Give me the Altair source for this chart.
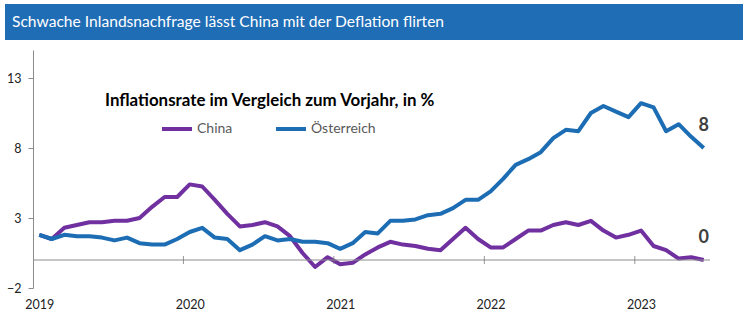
import altair as alt
import pandas as pd

# ---- data ----
years = ["2019", "2020", "2021", "2022", "2023"]
series_names = ["China", "Österreich"]
china = [1.8, 1.5, 2.3, 2.5, 2.7, 2.7, 2.8, 2.8, 3.0, 3.8, 4.5, 4.5,
         5.4, 5.25, 4.3, 3.3, 2.4, 2.5, 2.7, 2.4, 1.7, 0.5, -0.5, 0.2,
         -0.3, -0.2, 0.4, 0.9, 1.3, 1.1, 1.0, 0.8, 0.7, 1.5, 2.3, 1.5,
         0.9, 0.9, 1.5, 2.1, 2.1, 2.5, 2.7, 2.5, 2.8, 2.1, 1.6, 1.8,
         2.1, 1.0, 0.7, 0.1, 0.2, 0.0]
austria = [1.8, 1.5, 1.8, 1.7, 1.7, 1.6, 1.4, 1.6, 1.2, 1.1, 1.1, 1.5,
           2.0, 2.3, 1.6, 1.5, 0.7, 1.1, 1.7, 1.4, 1.5, 1.3, 1.3, 1.2,
           0.8, 1.2, 2.0, 1.9, 2.8, 2.8, 2.9, 3.2, 3.3, 3.7, 4.3, 4.3,
           4.9, 5.8, 6.8, 7.2, 7.7, 8.7, 9.3, 9.2, 10.5, 11.0, 10.6, 10.2,
           11.2, 10.9, 9.2, 9.7, 8.8, 8.0]
y_ticks = [-2, 3, 8, 13]
banner_title = "Schwache Inlandsnachfrage lässt China mit der Deflation flirten"
legend_title = "Inflationsrate im Vergleich zum Vorjahr, in %"
colors = ["#7030A0", "#1C6DB4"]

n = len(china)
rows = []
for name, vals in zip(series_names, [china, austria]):
    for i, v in enumerate(vals):
        rows.append({"t": i + 0.5, "value": v, "series": name})
df = pd.DataFrame(rows)

end_df = pd.DataFrame({
    "t": [n - 0.5, n - 0.5],
    "value": [china[-1], austria[-1]],
    "label": [f"{round(china[-1]):.0f}", f"{round(austria[-1]):.0f}"],
})
bounds_df = pd.DataFrame({"t": [float(12 * k) for k in range(1, len(years))],
                          "value": [0.0] * (len(years) - 1)})
one = pd.DataFrame({"k": [0]})

x_scale = alt.Scale(domain=[0, n], nice=False, zero=False)
y_scale = alt.Scale(domain=[-2, 15], nice=False, zero=False)
color_scale = alt.Scale(domain=series_names, range=colors)

label_expr = "[" + ",".join(f"'{y}'" for y in years) + "][floor(datum.value/12)]"
FONT = "Lato"

x_axis = alt.Axis(values=[12 * k + 0.5 for k in range(len(years))],
                  labelExpr=label_expr, domain=False, ticks=False,
                  grid=False, labelFontSize=12.5, labelPadding=10,
                  labelFont=FONT, labelColor="#222222", title=None)
y_axis = alt.Axis(values=y_ticks, grid=False, domainColor="#8c8c8c",
                  tickColor="#8c8c8c", tickSize=5, labelPadding=7,
                  labelFontSize=12.5, labelFont=FONT,
                  labelColor="#222222", title=None)

X = alt.X("t:Q", scale=x_scale, axis=x_axis)
Y = alt.Y("value:Q", scale=y_scale, axis=y_axis)

lines = alt.Chart(df).mark_line(strokeWidth=4, strokeJoin="round").encode(
    x=X, y=Y,
    color=alt.Color("series:N", scale=color_scale,
                    legend=alt.Legend(orient="none", legendX=127, legendY=62,
                                      direction="horizontal", title=None,
                                      symbolType="stroke", symbolStrokeWidth=4,
                                      symbolSize=900, labelFontSize=14,
                                      labelColor="#595959", labelFont=FONT,
                                      columnPadding=35, labelOffset=3)),
)

zero_rule = alt.Chart(bounds_df.head(1)).mark_rule(
    color="#8c8c8c", strokeWidth=1
).encode(y=Y)

year_ticks = alt.Chart(bounds_df).mark_tick(
    color="#6c6c6c", size=8, thickness=1, orient="vertical"
).encode(x=X, y=Y)

end_labels = alt.Chart(end_df).mark_text(
    dy=-22, fontSize=18, fontWeight="bold", color="#404040", font=FONT
).encode(x=X, y=Y, text="label:N")

legend_title_text = alt.Chart(pd.DataFrame({"txt": [legend_title]})).mark_text(
    align="left", baseline="middle", fontSize=16.9, fontWeight="bold",
    font=FONT, color="#000000"
).encode(x=alt.value(72), y=alt.value(51), text="txt:N")

banner = alt.Chart(one).mark_rect(color="#1F6DB5").encode(
    x=alt.value(-28), x2=alt.value(710), y=alt.value(-46), y2=alt.value(-10)
)
banner_text = alt.Chart(pd.DataFrame({"txt": [banner_title]})).mark_text(
    align="left", baseline="middle", fontSize=15.6, font=FONT, color="#ffffff"
).encode(x=alt.value(-21), y=alt.value(-28), text="txt:N")

chart = alt.layer(
    lines, zero_rule, year_ticks, end_labels, banner, banner_text,
    legend_title_text
).properties(
    width=677, height=238,
    autosize=alt.AutoSizeParams(type="none"),
    padding={"left": 33, "top": 50, "right": 40, "bottom": 33},
    background="white",
).configure_view(stroke=None)

chart.save("out.html", embed_options={"renderer": "svg", "actions": False})
